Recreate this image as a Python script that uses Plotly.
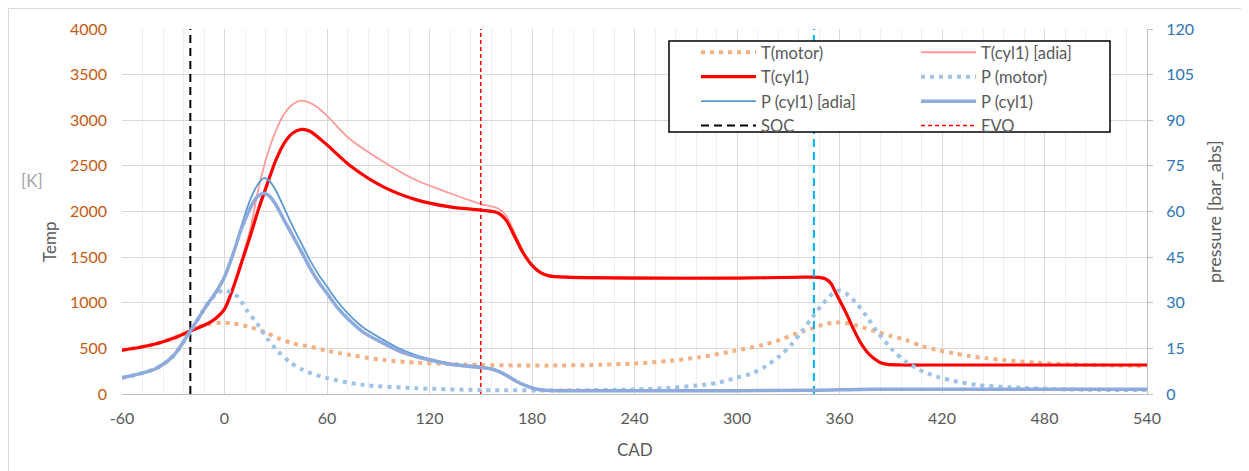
import plotly.graph_objects as go

# ---------------- data ----------------
cad_t_cyl1 = [-60, -50, -40, -30, -20, -10, -5, 0, 5, 10, 15, 20, 25, 30, 35, 40, 45, 50, 60, 73, 93, 112, 132, 150,
              160, 165, 170, 175, 180, 185, 190, 200, 240, 300, 340, 348, 352, 355, 357, 360, 364, 368, 372, 376,
              380, 384, 388, 396, 420, 480, 540]
t_cyl1 = [480, 510, 550, 610, 690, 770, 830, 930, 1160, 1440, 1730, 2030, 2300, 2560, 2750, 2860, 2900, 2880, 2730,
          2510, 2270, 2130, 2050, 2015, 1985, 1900, 1720, 1540, 1410, 1330, 1295, 1280, 1270, 1270, 1280, 1278,
          1260, 1210, 1140, 1030, 884, 720, 573, 464, 391, 343, 325, 318, 318, 318, 318]

cad_t_adia = [-60, -50, -40, -30, -20, -10, -5, 0, 5, 10, 15, 20, 25, 30, 35, 40, 45, 50, 54, 60, 73, 93, 112, 132,
              150, 160, 165, 170, 175, 180, 185, 190, 200, 240, 300, 340, 348, 352, 355, 357, 360, 364, 368, 372,
              376, 380, 384, 388, 396, 420, 480, 540]
t_adia = [480, 510, 550, 610, 690, 770, 830, 930, 1160, 1470, 1800, 2260, 2620, 2880, 3070, 3175, 3214, 3190, 3149,
          3050, 2800, 2546, 2345, 2200, 2082, 2035, 1950, 1760, 1560, 1420, 1335, 1300, 1290, 1280, 1275, 1283,
          1278, 1260, 1210, 1140, 1030, 884, 720, 573, 464, 391, 343, 325, 318, 318, 318, 318]

cad_t_motor = [-60, -50, -40, -30, -20, -14, -8, -2, 4, 14, 24, 31.5, 40, 50, 60, 73.5, 93, 112, 132, 150, 170,
               190, 220, 240, 260, 278, 298, 315, 325, 334, 343, 352, 357, 361, 366, 371, 381, 390, 399, 408,
               417, 427, 436, 446, 456, 475, 495, 515, 540]
t_motor = [480, 510, 550, 610, 690, 745, 770, 782, 775, 738, 676, 610, 555, 519, 475, 427, 373, 343, 329, 318, 313,
           311, 320, 335, 362, 402, 471, 537, 592, 658, 712, 767, 782, 782, 770, 745, 687, 636, 592, 526, 482,
           446, 416, 391, 373, 343, 325, 314, 310]

cad_p_cyl1 = [-60, -50, -40, -30, -20, -10, -5, 0, 5, 10, 15, 18, 20, 23, 26, 30, 35, 40, 45, 50, 55, 60, 66, 73,
              82, 93, 102, 112, 122, 132, 141, 150, 156, 161, 166, 171, 176, 181, 186, 195, 300, 345, 380, 540]
p_cyl1 = [5.3, 6.6, 8.4, 12.5, 20.7, 29.5, 33.5, 38.5, 46, 54.5, 61, 64, 65.2, 66, 65.2, 62.3, 57, 52, 46.8, 41.5,
          36.9, 33.1, 28.5, 24.3, 20, 16.7, 14.2, 12.3, 10.9, 9.8, 9.2, 8.7, 8.2, 7.3, 5.8, 4.1, 2.8, 1.8, 1.3,
          1.1, 1.1, 1.2, 1.6, 1.6]

cad_p_adia = [-60, -50, -40, -30, -20, -10, -5, 0, 5, 10, 15, 18, 20, 23, 26, 30, 35, 40, 45, 50, 55, 60, 66, 73,
              82, 93, 102, 112, 122, 132, 141, 150, 156, 161, 166, 171, 176, 181, 186, 195, 300, 345, 380, 540]
p_adia = [5.3, 6.6, 8.4, 12.5, 20.7, 29.5, 33.5, 38.5, 46, 55.5, 63.8, 67.5, 69.3, 71, 70.2, 67, 61, 55, 49.5, 44,
          39.3, 35.3, 30.5, 26, 21.5, 17.8, 15, 12.8, 11.3, 10.1, 9.5, 9.0, 8.5, 7.5, 6.0, 4.2, 2.9, 1.9, 1.4, 1.1,
          1.1, 1.2, 1.6, 1.6]

cad_p_motor = [-60, -50, -40, -30, -20, -13, -8, -4, 0, 4, 8, 13, 19, 25, 31.5, 38, 46, 60, 81, 112, 150, 200,
               240, 260, 280, 290, 300, 309, 317, 325, 332, 338, 344, 350, 356, 360, 364, 370, 376, 382, 391,
               399, 407, 417, 427, 440, 460, 493, 540]
p_motor = [5.3, 6.6, 8.4, 12.5, 20.5, 27, 31, 33.3, 34, 33.3, 31.8, 27.6, 23.2, 18.3, 13.9, 10.6, 7.9, 5.2, 3.0,
           1.9, 1.3, 1.2, 1.5, 2.0, 3.0, 3.8, 5.4, 6.8, 9.2, 12.5, 16.3, 20.7, 25.1, 29.5, 33, 34, 33, 29.8, 25.4,
           20.5, 14.5, 10.6, 7.9, 5.7, 4.3, 3.0, 2.2, 1.5, 1.3]

soc_cad = -20
evo_cad = 150
marker_cad = 345

x_ticks = [-60, 0, 60, 120, 180, 240, 300, 360, 420, 480, 540]
x_tick_labels = ["-60", "0", "60", "120", "180", "240", "300", "360", "420", "480", "540"]
temp_ticks = [0, 500, 1000, 1500, 2000, 2500, 3000, 3500, 4000]
p_ticks = [0, 15, 30, 45, 60, 75, 90, 105, 120]

# ---------------- figure ----------------
OFF = 8                      # page body margin
SW, SH = 1249, 471           # screen size
W, H = SW - OFF, SH - OFF    # figure size
L, R, T, B = 122, 1147, 29, 394   # plot area in screen pixels
FONT = "Lato"


def px_x(px):
    return (px - L) / (R - L)


def px_y(py):
    return (B - py) / (B - T)


fig = go.Figure()

dots = "4px,5px"
SM = 0.8
fig.add_trace(go.Scatter(x=cad_t_motor, y=t_motor, name="T(motor)", mode="lines", line_shape="spline",
                         line=dict(color="#F4B183", width=4, dash=dots, smoothing=SM), legend="legend",
                         legendrank=1))
fig.add_trace(go.Scatter(x=cad_t_adia, y=t_adia, name="T(cyl1) [adia]", mode="lines", line_shape="spline",
                         line=dict(color="#FF9B9B", width=1.8, smoothing=SM), legend="legend2", legendrank=1))
fig.add_trace(go.Scatter(x=cad_t_cyl1, y=t_cyl1, name="T(cyl1)", mode="lines", line_shape="spline",
                         line=dict(color="#FF0000", width=3.2, smoothing=SM), legend="legend", legendrank=2))
fig.add_trace(go.Scatter(x=cad_p_motor, y=p_motor, name="P (motor)", mode="lines", line_shape="spline",
                         yaxis="y2", line=dict(color="#9DC3E6", width=4, dash=dots, smoothing=SM),
                         legend="legend2", legendrank=2))
fig.add_trace(go.Scatter(x=cad_p_adia, y=p_adia, name="P (cyl1) [adia]", mode="lines", line_shape="spline",
                         yaxis="y2", line=dict(color="#5B9BD5", width=1.8, smoothing=SM), legend="legend",
                         legendrank=3))
fig.add_trace(go.Scatter(x=cad_p_cyl1, y=p_cyl1, name="P (cyl1)", mode="lines", line_shape="spline",
                         yaxis="y2", line=dict(color="#8FAADC", width=3.5, smoothing=SM), legend="legend2",
                         legendrank=3))
fig.add_trace(go.Scatter(x=[soc_cad, soc_cad], y=[temp_ticks[0], temp_ticks[-1]], name="SOC", mode="lines",
                         line=dict(color="#000000", width=2, dash="8px,5px"), legend="legend", legendrank=4))
fig.add_trace(go.Scatter(x=[evo_cad, evo_cad], y=[temp_ticks[0], temp_ticks[-1]], name="EVO", mode="lines",
                         line=dict(color="#FF0000", width=1.5, dash="4px,3px"), legend="legend2", legendrank=4))
fig.add_trace(go.Scatter(x=[marker_cad, marker_cad], y=[temp_ticks[0], temp_ticks[-1]], mode="lines",
                         showlegend=False, line=dict(color="#00B0F0", width=2, dash="8px,5px")))

legend_common = dict(
    bgcolor="rgba(0,0,0,0)", borderwidth=0, orientation="v", xanchor="left", yanchor="top",
    font=dict(family=FONT, size=16.5, color="#595959"), itemwidth=55, tracegroupgap=0,
)

fig.update_layout(
    width=W, height=H,
    margin=dict(l=L - OFF, r=SW - R, t=T - OFF, b=SH - B),
    paper_bgcolor="white", plot_bgcolor="white",
    font=dict(family=FONT, size=16, color="#595959"),
    showlegend=True,
    legend=dict(x=px_x(696), y=px_y(35), **legend_common),
    legend2=dict(x=px_x(916), y=px_y(35), **legend_common),
    xaxis=dict(
        range=[x_ticks[0], x_ticks[-1]], tickvals=x_ticks, ticktext=x_tick_labels, showgrid=True,
        gridcolor="#D9D9D9", gridwidth=1,
        minor=dict(dtick=12, showgrid=True, gridcolor="#EFEFEF", gridwidth=1),
        showline=True, linecolor="#BFBFBF", linewidth=1, zeroline=False, ticks="",
        tickfont=dict(family=FONT, size=16, color="#595959"), ticklabelstandoff=10,
    ),
    yaxis=dict(
        range=[temp_ticks[0], temp_ticks[-1]], tickvals=temp_ticks, showgrid=True, gridcolor="#D9D9D9",
        gridwidth=1, zeroline=False, showline=False, ticks="",
        tickfont=dict(family=FONT, size=16, color="#C55A11"), ticklabelstandoff=14,
    ),
    yaxis2=dict(
        range=[p_ticks[0], p_ticks[-1]], tickvals=p_ticks, overlaying="y", side="right", showgrid=False,
        zeroline=False, showline=True, linecolor="#BFBFBF", linewidth=1, ticks="outside", ticklen=5,
        tickcolor="#BFBFBF", tickfont=dict(family=FONT, size=16, color="#2E75B6"), ticklabelstandoff=10,
    ),
    shapes=[
        # chart-area border
        dict(type="rect", xref="paper", yref="paper", x0=px_x(8.5), y0=px_y(490), x1=px_x(1270), y1=px_y(8.5),
             line=dict(color="#D9D9D9", width=1), fillcolor="rgba(0,0,0,0)", layer="below"),
        # legend box
        dict(type="rect", xref="paper", yref="paper", x0=px_x(669), y0=px_y(132), x1=px_x(1110), y1=px_y(41),
             line=dict(color="#000000", width=1.5), fillcolor="white", layer="above"),
    ],
    annotations=[
        dict(text="Temp", xref="paper", yref="paper", x=px_x(50), y=px_y(242), textangle=-90, showarrow=False,
             font=dict(family=FONT, size=17, color="#595959"), xanchor="center", yanchor="middle"),
        dict(text="[K]", xref="paper", yref="paper", x=px_x(32), y=px_y(180), showarrow=False,
             font=dict(family=FONT, size=17, color="#A6A6A6"), xanchor="center", yanchor="middle"),
        dict(text="pressure [bar_abs]", xref="paper", yref="paper", x=px_x(1214), y=px_y(212), textangle=-90,
             showarrow=False, font=dict(family=FONT, size=18, color="#595959"), xanchor="center",
             yanchor="middle"),
        dict(text="CAD", xref="paper", yref="paper", x=px_x(635), y=px_y(449), showarrow=False,
             font=dict(family=FONT, size=17, color="#595959"), xanchor="center", yanchor="middle"),
    ],
)

fig.write_html("out.html")
